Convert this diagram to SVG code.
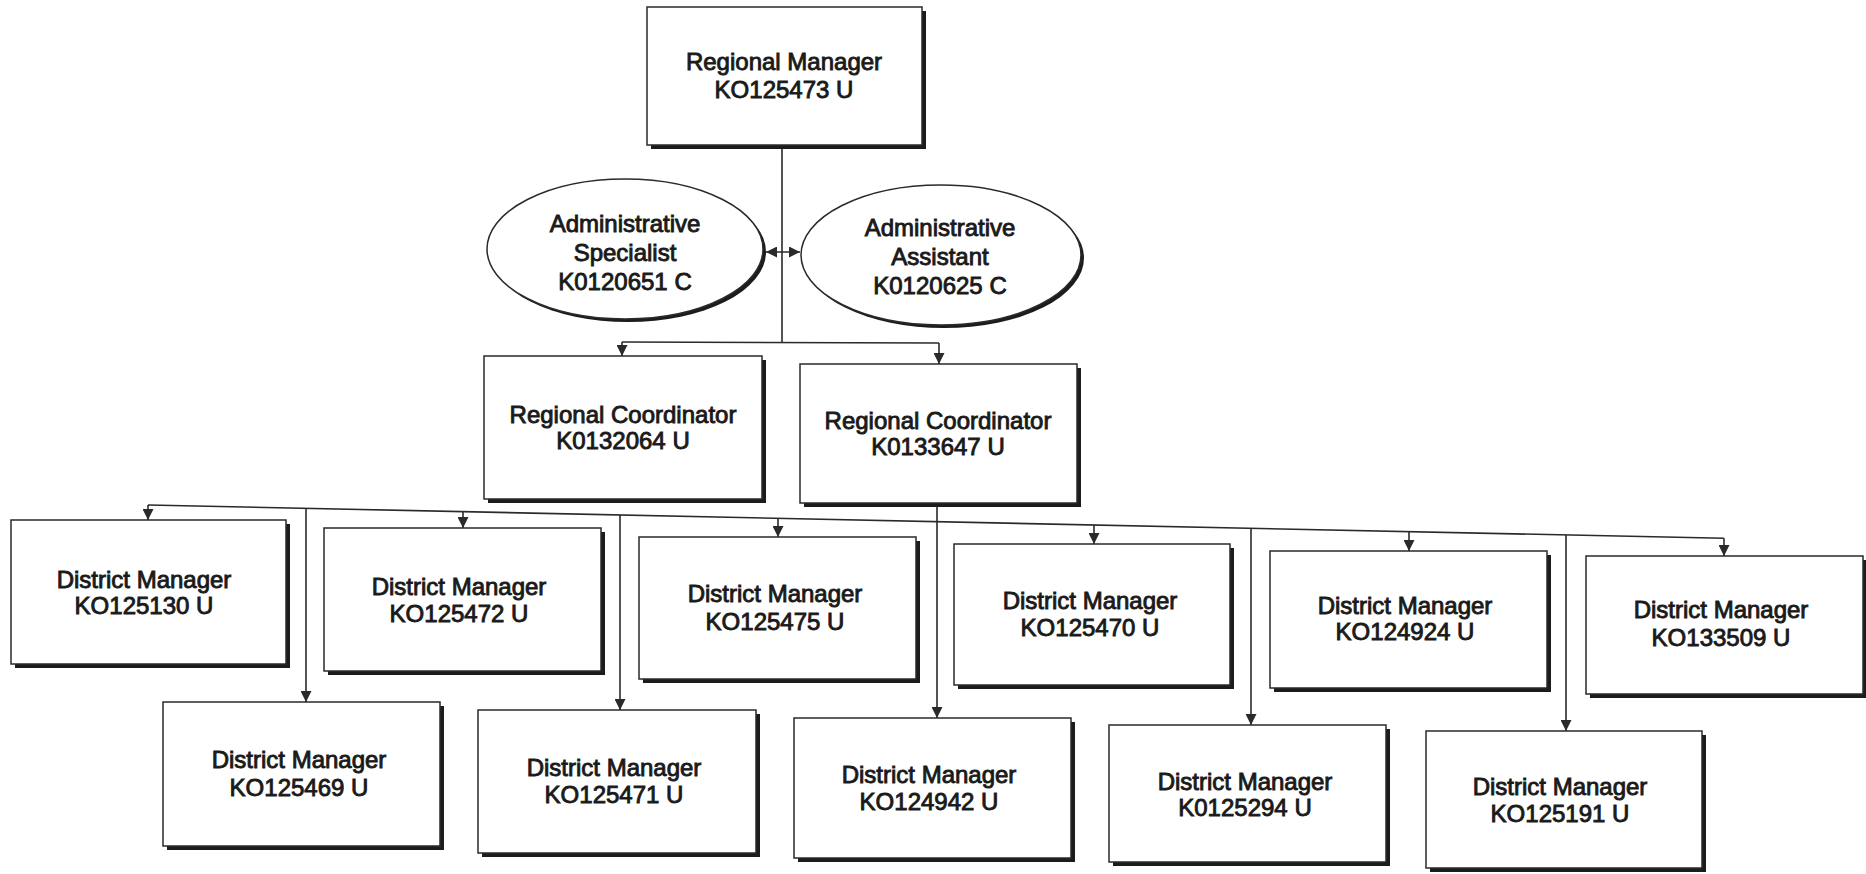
<svg xmlns="http://www.w3.org/2000/svg" width="1866" height="874" viewBox="0 0 1866 874">
<defs>
<style>
.bg{fill:#ffffff}
.sh{fill:#1c1c1c}
.box{fill:#ffffff;stroke:#2a2a2a;stroke-width:1.5}
.t{font-family:"Liberation Sans",Arial,sans-serif;font-size:24px;fill:#1a1a1a;stroke:#1a1a1a;stroke-width:0.9;text-anchor:middle}
.c{fill:none;stroke:#2a2a2a;stroke-width:1.6}
</style>
<marker id="ah" viewBox="0 0 12 12" refX="12" refY="6" markerWidth="11" markerHeight="11" markerUnits="userSpaceOnUse" orient="auto-start-reverse">
<path d="M0,0 L12,6 L0,12 z" fill="#2a2a2a"/>
</marker>
</defs>
<rect class="bg" x="0" y="0" width="1866" height="874"/>

<g id="connectors">
<path class="c" d="M782,145 V342"/>
<path class="c" d="M622,342 L939,343"/>
<path class="c" d="M622,342 V356" marker-end="url(#ah)"/>
<path class="c" d="M939,343 V364" marker-end="url(#ah)"/>
<path class="c" d="M766,252 H800" marker-start="url(#ah)" marker-end="url(#ah)"/>
<path class="c" d="M148,505 L1724,538.3"/>
<path class="c" d="M148,505 V520" marker-end="url(#ah)"/>
<path class="c" d="M463,511.6 V528" marker-end="url(#ah)"/>
<path class="c" d="M778,518.3 V537" marker-end="url(#ah)"/>
<path class="c" d="M1094,524.9 V544" marker-end="url(#ah)"/>
<path class="c" d="M1409,531.6 V551" marker-end="url(#ah)"/>
<path class="c" d="M1724,538.3 V556" marker-end="url(#ah)"/>
<path class="c" d="M306,508.3 V702" marker-end="url(#ah)"/>
<path class="c" d="M620,514.9 V710" marker-end="url(#ah)"/>
<path class="c" d="M937,507 V718" marker-end="url(#ah)"/>
<path class="c" d="M1251,528.2 V725" marker-end="url(#ah)"/>
<path class="c" d="M1566,534.9 V731" marker-end="url(#ah)"/>
</g>

<g id="regional-manager">
<rect class="sh" x="651" y="11" width="275" height="138"/>
<rect class="box" x="647" y="7" width="275" height="138"/>
<text class="t" x="784" y="70">Regional Manager</text>
<text class="t" x="784" y="98">KO125473 U</text>
</g>

<g id="admin-specialist">
<ellipse class="sh" cx="628" cy="252" rx="138" ry="70"/>
<ellipse class="box" cx="625" cy="249" rx="138" ry="70"/>
<text class="t" x="625" y="232">Administrative</text>
<text class="t" x="625" y="261">Specialist</text>
<text class="t" x="625" y="290">K0120651 C</text>
</g>

<g id="admin-assistant">
<ellipse class="sh" cx="944" cy="258" rx="140" ry="70"/>
<ellipse class="box" cx="941" cy="255" rx="140" ry="70"/>
<text class="t" x="940" y="236">Administrative</text>
<text class="t" x="940" y="265">Assistant</text>
<text class="t" x="940" y="294">K0120625 C</text>
</g>

<g id="coord-1">
<rect class="sh" x="488" y="360" width="278" height="143"/>
<rect class="box" x="484" y="356" width="278" height="143"/>
<text class="t" x="623" y="423">Regional Coordinator</text>
<text class="t" x="623" y="449">K0132064 U</text>
</g>

<g id="coord-2">
<rect class="sh" x="804" y="368" width="277" height="139"/>
<rect class="box" x="800" y="364" width="277" height="139"/>
<text class="t" x="938" y="429">Regional Coordinator</text>
<text class="t" x="938" y="455">K0133647 U</text>
</g>

<g id="dm-125130">
<rect class="sh" x="15" y="524" width="275" height="144"/>
<rect class="box" x="11" y="520" width="275" height="144"/>
<text class="t" x="144" y="588">District Manager</text>
<text class="t" x="144" y="614">KO125130 U</text>
</g>

<g id="dm-125472">
<rect class="sh" x="328" y="532" width="277" height="143"/>
<rect class="box" x="324" y="528" width="277" height="143"/>
<text class="t" x="459" y="595">District Manager</text>
<text class="t" x="459" y="622">KO125472 U</text>
</g>

<g id="dm-125475">
<rect class="sh" x="643" y="541" width="277" height="142"/>
<rect class="box" x="639" y="537" width="277" height="142"/>
<text class="t" x="775" y="602">District Manager</text>
<text class="t" x="775" y="630">KO125475 U</text>
</g>

<g id="dm-125470">
<rect class="sh" x="958" y="548" width="276" height="141"/>
<rect class="box" x="954" y="544" width="276" height="141"/>
<text class="t" x="1090" y="609">District Manager</text>
<text class="t" x="1090" y="636">KO125470 U</text>
</g>

<g id="dm-124924">
<rect class="sh" x="1274" y="555" width="277" height="137"/>
<rect class="box" x="1270" y="551" width="277" height="137"/>
<text class="t" x="1405" y="614">District Manager</text>
<text class="t" x="1405" y="640">KO124924 U</text>
</g>

<g id="dm-133509">
<rect class="sh" x="1590" y="560" width="276" height="138"/>
<rect class="box" x="1586" y="556" width="277" height="138"/>
<text class="t" x="1721" y="618">District Manager</text>
<text class="t" x="1721" y="646">KO133509 U</text>
</g>

<g id="dm-125469">
<rect class="sh" x="167" y="706" width="277" height="144"/>
<rect class="box" x="163" y="702" width="277" height="144"/>
<text class="t" x="299" y="768">District Manager</text>
<text class="t" x="299" y="796">KO125469 U</text>
</g>

<g id="dm-125471">
<rect class="sh" x="482" y="714" width="278" height="143"/>
<rect class="box" x="478" y="710" width="278" height="143"/>
<text class="t" x="614" y="776">District Manager</text>
<text class="t" x="614" y="803">KO125471 U</text>
</g>

<g id="dm-124942">
<rect class="sh" x="798" y="722" width="277" height="140"/>
<rect class="box" x="794" y="718" width="277" height="140"/>
<text class="t" x="929" y="783">District Manager</text>
<text class="t" x="929" y="810">KO124942 U</text>
</g>

<g id="dm-125294">
<rect class="sh" x="1113" y="729" width="277" height="137"/>
<rect class="box" x="1109" y="725" width="277" height="137"/>
<text class="t" x="1245" y="790">District Manager</text>
<text class="t" x="1245" y="816">K0125294 U</text>
</g>

<g id="dm-125191">
<rect class="sh" x="1430" y="735" width="276" height="137"/>
<rect class="box" x="1426" y="731" width="276" height="137"/>
<text class="t" x="1560" y="795">District Manager</text>
<text class="t" x="1560" y="822">KO125191 U</text>
</g>
</svg>
